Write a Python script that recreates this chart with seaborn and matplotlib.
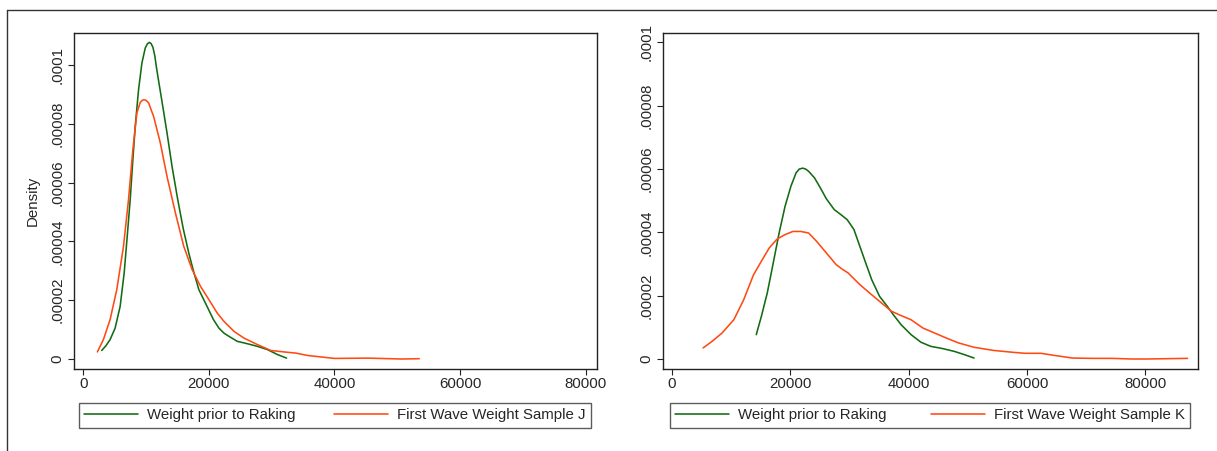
import matplotlib
matplotlib.use("Agg")
import matplotlib.pyplot as plt
from matplotlib.lines import Line2D
import seaborn as sns
import pandas as pd

# Density curves (x = weight, y = density in 1e-5)
left_prior_x = [2933, 3600, 4267, 5067, 5867, 6507, 7040, 7467, 7893, 8267, 8800, 9333,
                9867, 10200, 10506, 10800, 11093, 11400, 11626, 12000, 12500, 13333,
                14133, 15040, 15900, 16800, 17600, 18400, 19840, 20700, 21600, 22400,
                23200, 24530, 26130, 27730, 29330, 30930, 32370]
left_prior_y = [0.29, 0.45, 0.66, 1.05, 1.79, 2.92, 4.29, 5.42, 6.78, 7.91, 9.16, 10.07,
                10.58, 10.72, 10.77, 10.73, 10.6, 10.3, 9.95, 9.45, 8.8, 7.69,
                6.55, 5.42, 4.45, 3.6, 2.95, 2.36, 1.73, 1.35, 1.05, 0.88,
                0.77, 0.6, 0.52, 0.43, 0.32, 0.15, 0.03]

left_wave_x = [2240, 3200, 4267, 5333, 6400, 7200, 7893, 8533, 9067, 9400, 9706, 10050,
               10400, 11200, 12267, 13333, 14667, 16000, 17333, 18667, 20000, 21333,
               22400, 24000, 25600, 27733, 29867, 32000, 33870, 35730, 37870, 40000,
               45330, 50660, 53500]
left_wave_y = [0.24, 0.66, 1.34, 2.36, 3.83, 5.42, 7.12, 8.37, 8.73, 8.8, 8.82, 8.79,
               8.71, 8.25, 7.35, 6.21, 4.97, 3.83, 3.04, 2.47, 2.02, 1.56,
               1.28, 0.94, 0.71, 0.49, 0.29, 0.24, 0.2, 0.12, 0.07, 0.02,
               0.03, 0.0, 0.01]

right_prior_x = [14244, 15109, 16107, 17106, 18104, 19103, 20101, 20967, 21500, 22098,
                 22600, 23096, 24095, 25093, 26091, 27423, 28554, 29619, 30751, 31749,
                 32748, 33746, 35077, 36408, 37406, 38738, 40402, 42066, 43730, 45727,
                 47724, 49388, 51052]
right_prior_y = [0.77, 1.35, 2.09, 3.03, 3.98, 4.82, 5.46, 5.88, 6.0, 6.03,
                 6.0, 5.93, 5.72, 5.40, 5.06, 4.72, 4.56, 4.40, 4.09, 3.56,
                 3.03, 2.51, 1.98, 1.66, 1.40, 1.08, 0.77, 0.53, 0.40, 0.33,
                 0.24, 0.14, 0.03]

right_wave_x = [5258, 6789, 8453, 10450, 12114, 13778, 15109, 16440, 17771, 19103, 20434,
                21765, 23096, 24427, 26091, 27755, 28754, 29752, 31749, 33746, 35410,
                37074, 38738, 40402, 42399, 44396, 46393, 48390, 51052, 54380, 57708,
                59705, 62367, 64364, 67692, 71020, 74348, 77676, 80339, 83667, 87129]
right_wave_y = [0.35, 0.56, 0.82, 1.24, 1.87, 2.66, 3.09, 3.51, 3.79, 3.93, 4.03,
                4.03, 3.98, 3.72, 3.35, 2.98, 2.84, 2.72, 2.35, 2.03, 1.77,
                1.51, 1.37, 1.24, 0.98, 0.82, 0.66, 0.51, 0.37, 0.27, 0.21,
                0.18, 0.18, 0.12, 0.03, 0.02, 0.02, 0.0, 0.0, 0.01, 0.02]

x_ticks = [0, 20000, 40000, 60000, 80000]
y_ticks = [0, 0.00002, 0.00004, 0.00006, 0.00008, 0.0001]
y_labels = ["0", ".00002", ".00004", ".00006", ".00008", ".0001"]
prior_label = "Weight prior to Raking"
wave_labels = ["First Wave Weight Sample J", "First Wave Weight Sample K"]

GREEN = "#136b13"
ORANGE = "#ff4a14"

sns.set_style("white")
plt.rcParams["font.family"] = ["Liberation Sans", "DejaVu Sans"]
plt.rcParams["font.size"] = 10.8

W, H = 1217, 451
fig = plt.figure(figsize=(W / 100, H / 100), dpi=100)

def box(x0, y0, x1, y1):
    return [x0 / W, 1 - y1 / H, (x1 - x0) / W, (y1 - y0) / H]

ax_l = fig.add_axes(box(74, 33, 597, 369))
ax_r = fig.add_axes(box(663, 33, 1198, 369))

panels = [
    (ax_l, left_prior_x, left_prior_y, left_wave_x, left_wave_y, wave_labels[0],
     (-1480, 81800), (-3.4e-6, 1.109e-4), box(79, 401, 591, 430)),
    (ax_r, right_prior_x, right_prior_y, right_wave_x, right_wave_y, wave_labels[1],
     (-1520, 88900), (-3.16e-6, 1.03e-4), box(670, 401, 1190, 430)),
]

for ax, px, py, wx, wy, wlab, xlim, ylim, lbox in panels:
    prior = pd.DataFrame({"x": px, "y": [v * 1e-5 for v in py]})
    wave = pd.DataFrame({"x": wx, "y": [v * 1e-5 for v in wy]})
    sns.lineplot(data=prior, x="x", y="y", ax=ax, color=GREEN, lw=1.15,
                 sort=False, estimator=None)
    sns.lineplot(data=wave, x="x", y="y", ax=ax, color=ORANGE, lw=1.15,
                 sort=False, estimator=None)
    ax.set_xlim(*xlim)
    ax.set_ylim(*ylim)
    ax.set_xticks(x_ticks)
    ax.set_xticklabels([str(t) for t in x_ticks])
    ax.set_yticks(y_ticks)
    ax.set_yticklabels(y_labels, rotation=90, va="center")
    ax.set_xlabel("")
    ax.set_ylabel("")
    ax.tick_params(axis="both", direction="out", length=4, width=0.8,
                   color="#222222", labelsize=10.8, bottom=True, left=True)
    ax.tick_params(axis="y", pad=3)
    ax.tick_params(axis="x", pad=2)
    for s in ax.spines.values():
        s.set_color("#222222")
        s.set_linewidth(1.0)
    handles = [Line2D([], [], color=GREEN, lw=1.15), Line2D([], [], color=ORANGE, lw=1.15)]
    leg = fig.legend(handles, [prior_label, wlab], loc="center",
                     bbox_to_anchor=(lbox[0], lbox[1], lbox[2], lbox[3]),
                     mode="expand", ncol=2, frameon=True, fancybox=False,
                     handlelength=3.6, handletextpad=0.6, borderaxespad=0,
                     borderpad=0.35, fontsize=10.8)
    leg.get_frame().set_edgecolor("#333333")
    leg.get_frame().set_linewidth(1.0)

ax_l.set_ylabel("Density", fontsize=10.8)
ax_l.yaxis.set_label_coords(-0.066, 0.5)

# outer frame of the combined graph (top and left edges)
fig.add_artist(Line2D([7 / W, 1], [1 - 10 / H, 1 - 10 / H], color="#333333", lw=1.0))
fig.add_artist(Line2D([7 / W, 7 / W], [1 - 10 / H, 0], color="#333333", lw=1.0))

fig.savefig("out.png", dpi=100)
